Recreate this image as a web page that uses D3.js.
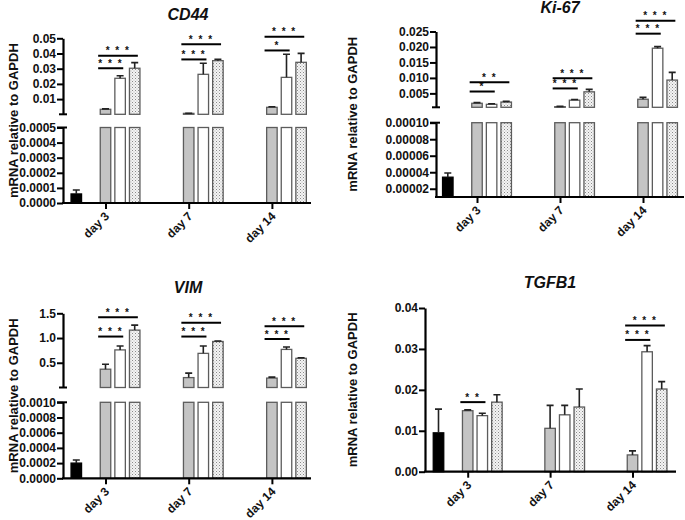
<!DOCTYPE html>
<html>
<head>
<meta charset="utf-8">
<script src="https://cdn.jsdelivr.net/npm/d3@7"></script>
<style>
  body { margin: 0; background: #fff; }
  svg text { font-family: "Liberation Sans", Arial, sans-serif; font-weight: bold; fill: #111; }
</style>
</head>
<body>
<div id="chart"></div>
<script>
const days = ["day 3", "day 7", "day 14"];
const groups = ["gray", "white", "dotted"];

// CD44
const cd44Ctrl = [0.00006, 0.000026];
const cd44Mean = [[0.0033, 0.0237, 0.0303], [0.0006, 0.0263, 0.0353], [0.0046, 0.0243, 0.0342]];
const cd44Sd = [[0.0003, 0.0017, 0.0037], [0.0001, 0.0073, 0.0009], [0.0004, 0.0152, 0.0059]];
const cd44Sig = [["day 3", "white", "* * *", 0.0303], ["day 3", "dotted", "* * *", 0.0386],
  ["day 7", "white", "* * *", 0.0361], ["day 7", "dotted", "* * *", 0.0461],
  ["day 14", "white", "*", 0.042], ["day 14", "dotted", "* * *", 0.0511]];
const cd44LowTicks = [0, 0.0001, 0.0002, 0.0003, 0.0004, 0.0005];
const cd44HighTicks = [0.01, 0.02, 0.03, 0.04, 0.05];

// Ki-67
const kiCtrl = [0.000034, 0.000005];
const kiMean = [[0.0018, 0.00146, 0.0022], [0.0007, 0.0028, 0.0055], [0.0031, 0.0196, 0.0093]];
const kiSd = [[0.0002, 0.0002, 0.0002], [0.0001, 0.0002, 0.0008], [0.0006, 0.0005, 0.0025]];
const kiSig = [["day 3", "white", "*", 0.0056], ["day 3", "dotted", "* *", 0.0086],
  ["day 7", "white", "* * *", 0.0066], ["day 7", "dotted", "* * *", 0.0099],
  ["day 14", "white", "* * *", 0.0243], ["day 14", "dotted", "* * *", 0.0285]];
const kiLowTicks = [0.00002, 0.00004, 0.00006, 0.00008, 0.0001];
const kiHighTicks = [0.005, 0.010, 0.015, 0.020, 0.025];

// VIM
const vimCtrl = [0.0002, 0.00004];
const vimMean = [[0.37, 0.76, 1.16], [0.2, 0.69, 0.93], [0.19, 0.77, 0.59]];
const vimSd = [[0.1, 0.08, 0.1], [0.09, 0.15, 0.01], [0.02, 0.05, 0.01]];
const vimSig = [["day 3", "white", "* * *", 1.03], ["day 3", "dotted", "* * *", 1.42],
  ["day 7", "white", "* * *", 1.03], ["day 7", "dotted", "* * *", 1.31],
  ["day 14", "white", "* * *", 0.98], ["day 14", "dotted", "* * *", 1.24]];
const vimLowTicks = [0, 0.0002, 0.0004, 0.0006, 0.0008, 0.001];
const vimHighTicks = [0.5, 1.0, 1.5];

// TGFB1
const tgfCtrl = [0.0095, 0.0058];
const tgfMean = [[0.0149, 0.0137, 0.017], [0.0106, 0.0139, 0.0158], [0.0041, 0.0293, 0.0202]];
const tgfSd = [[0.0002, 0.0006, 0.0018], [0.0056, 0.0023, 0.0044], [0.001, 0.0015, 0.0018]];
const tgfSig = [["day 3", "white", "* *", 0.017], ["day 14", "white", "* * *", 0.0322], ["day 14", "dotted", "* * *", 0.0357]];
const tgfTicks = [0, 0.01, 0.02, 0.03, 0.04];

const width = 685, height = 520;
const svg = d3.select("#chart").append("svg")
  .attr("width", width)
  .attr("height", height);

// stipple for the third group
const pat = svg.append("defs").append("pattern")
  .attr("id", "dots")
  .attr("width", 3).attr("height", 3)
  .attr("patternUnits", "userSpaceOnUse");
pat.append("rect").attr("width", 3).attr("height", 3).attr("fill", "#f4f4f4");
pat.append("rect").attr("width", 1).attr("height", 1).attr("fill", "#8a8a8a");
pat.append("rect").attr("x", 1.5).attr("y", 1.5).attr("width", 1).attr("height", 1).attr("fill", "#b0b0b0");

const fills = { ctrl: "#000", gray: "#c4c4c4", white: "#fff", dotted: "url(#dots)" };

const panels = [
  { title: "CD44", ctrl: cd44Ctrl, mean: cd44Mean, sd: cd44Sd, sig: cd44Sig,
    ax: 63, labelX: 13, titleX: 188, titleY: 19.5, firstDay: 105.5, dayStep: 83.2, xEnd: 311,
    segs: [{ domain: [0, 0.0005], range: [203, 127.5], ticks: cd44LowTicks, fmt: ".4f" },
           { domain: [0, 0.05], range: [114.3, 38.3], ticks: cd44HighTicks, fmt: ".2f" }] },
  { title: "Ki-67", ctrl: kiCtrl, mean: kiMean, sd: kiSd, sig: kiSig,
    ax: 436, labelX: 352, titleX: 560, titleY: 13, firstDay: 477, dayStep: 83, xEnd: 684,
    segs: [{ domain: [0.00001, 0.0001], range: [197, 122.7], ticks: kiLowTicks, fmt: ".5f" },
           { domain: [0.0005, 0.025], range: [107.3, 31.5], ticks: kiHighTicks, fmt: ".3f" }] },
  { title: "VIM", ctrl: vimCtrl, mean: vimMean, sd: vimSd, sig: vimSig,
    ax: 63, labelX: 13, titleX: 188, titleY: 293, firstDay: 105.5, dayStep: 83.2, xEnd: 311,
    segs: [{ domain: [0, 0.001], range: [478.3, 402.3], ticks: vimLowTicks, fmt: ".4f" },
           { domain: [0, 1.5], range: [387.5, 313.3], ticks: vimHighTicks, fmt: ".1f" }] },
  { title: "TGFB1", ctrl: tgfCtrl, mean: tgfMean, sd: tgfSd, sig: tgfSig,
    ax: 425, labelX: 352, titleX: 550, titleY: 288, firstDay: 467.7, dayStep: 82.4, xEnd: 676,
    segs: [{ domain: [0, 0.04], range: [471.7, 308], ticks: tgfTicks, fmt: ".2f" }] }
];

const barStep = 14.6, barW = 10.5;

panels.forEach(drawPanel);

function drawPanel(p) {
  const g = svg.append("g");
  const xDay = d3.scalePoint().domain(days).range([p.firstDay, p.firstDay + 2 * p.dayStep]);
  const xGrp = d3.scalePoint().domain(groups).range([0, 2 * barStep]);

  const bars = [{ cx: xDay(days[0]) - 2 * barStep, v: p.ctrl[0], sd: p.ctrl[1], kind: "ctrl" }];
  days.forEach((d, i) => groups.forEach((k, j) => {
    bars.push({ cx: xDay(d) + xGrp(k), v: p.mean[i][j], sd: p.sd[i][j], kind: k });
  }));

  const top = p.segs[p.segs.length - 1];
  const yTop = d3.scaleLinear().domain(top.domain).range(top.range);
  const baseY = p.segs[0].range[0];

  p.segs.forEach((s, si) => {
    const y = d3.scaleLinear().domain(s.domain).range(s.range);
    // a bar reaches a segment only if it passes the segment below it
    const floor = si === 0 ? s.domain[0] : Math.max(s.domain[0], p.segs[si - 1].domain[1]);
    const shown = bars.filter(b => b.v > floor);

    g.selectAll(null).data(shown).enter().append("rect")
      .attr("x", b => b.cx - barW / 2)
      .attr("y", b => y(Math.min(b.v, s.domain[1])))
      .attr("width", barW)
      .attr("height", b => y(s.domain[0]) - y(Math.min(b.v, s.domain[1])))
      .attr("fill", b => fills[b.kind])
      .attr("stroke", b => b.kind === "ctrl" ? "#000" : "#5c5c5c")
      .attr("stroke-width", 1.3);

    const withErr = shown.filter(b => b.v <= s.domain[1]);
    g.selectAll(null).data(withErr).enter().append("path")
      .attr("d", b => `M${b.cx},${y(b.v)}V${y(b.v + b.sd)}M${b.cx - 3.5},${y(b.v + b.sd)}H${b.cx + 3.5}`)
      .attr("fill", "none")
      .attr("stroke", "#222")
      .attr("stroke-width", 1.6);

    const axis = g.append("g")
      .attr("transform", `translate(${p.ax},0)`)
      .call(d3.axisLeft(y).tickValues(s.ticks).tickFormat(d3.format(s.fmt)).tickSize(6).tickSizeOuter(0));
    axis.select(".domain").attr("stroke", "#000").attr("stroke-width", 2.2);
    axis.selectAll(".tick line").attr("stroke", "#000").attr("stroke-width", 2);
    axis.selectAll(".tick text").attr("x", -7).style("font-size", "12px").attr("fill", "#111");

    // caps at the break
    if (p.segs.length > 1) {
      if (si === 0) {
        g.append("line").attr("x1", p.ax - 6).attr("x2", p.ax + 4)
          .attr("y1", s.range[1]).attr("y2", s.range[1])
          .attr("stroke", "#000").attr("stroke-width", 2);
      } else {
        g.append("line").attr("x1", p.ax - 4).attr("x2", p.ax + 4)
          .attr("y1", s.range[0]).attr("y2", s.range[0])
          .attr("stroke", "#000").attr("stroke-width", 2);
      }
    }
  });

  // x axis
  g.append("line")
    .attr("x1", p.ax - 1).attr("x2", p.xEnd)
    .attr("y1", baseY).attr("y2", baseY)
    .attr("stroke", "#000").attr("stroke-width", 2.2);
  const xa = g.append("g")
    .attr("transform", `translate(0,${baseY})`)
    .call(d3.axisBottom(xDay).tickSize(6).tickSizeOuter(0));
  xa.select(".domain").remove();
  xa.selectAll(".tick line").attr("stroke", "#000").attr("stroke-width", 2);
  xa.selectAll(".tick text")
    .attr("y", 0).attr("dy", 0)
    .attr("text-anchor", "end")
    .attr("transform", "translate(4,14) rotate(-45)")
    .style("font-size", "12px")
    .attr("fill", "#111");

  // significance brackets
  const sg = g.selectAll(null).data(p.sig).enter().append("g");
  sg.append("line")
    .attr("x1", d => xDay(d[0]) - 0.7 * barW)
    .attr("x2", d => xDay(d[0]) + xGrp(d[1]) + 0.3 * barW)
    .attr("y1", d => yTop(d[3])).attr("y2", d => yTop(d[3]))
    .attr("stroke", "#000").attr("stroke-width", 2);
  sg.append("text")
    .attr("x", d => xDay(d[0]) + (xGrp(d[1]) - 0.4 * barW) / 2)
    .attr("y", d => yTop(d[3]) - 1.5)
    .attr("text-anchor", "middle")
    .style("font-size", "10px")
    .style("letter-spacing", "1.5px")
    .style("white-space", "pre")
    .text(d => d[2]);

  // titles
  const span = [baseY, top.range[1]];
  g.append("text")
    .attr("transform", `translate(${p.labelX},${(span[0] + span[1]) / 2}) rotate(-90)`)
    .attr("text-anchor", "middle")
    .attr("dy", "0.35em")
    .style("font-size", "13px")
    .text("mRNA relative to GAPDH");
  g.append("text")
    .attr("x", p.titleX).attr("y", p.titleY)
    .attr("text-anchor", "middle")
    .style("font-size", "16px")
    .style("font-style", "italic")
    .text(p.title);
}
</script>
</body>
</html>
